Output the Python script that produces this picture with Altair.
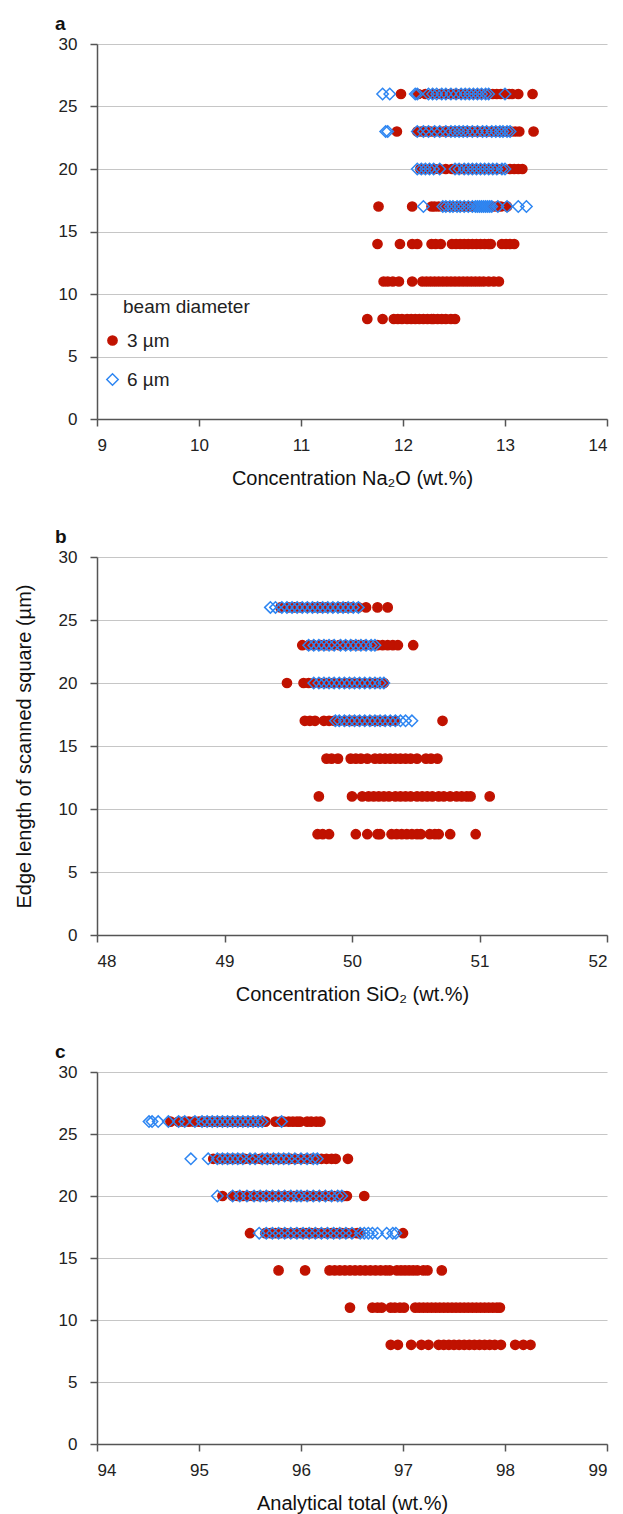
import altair as alt
import pandas as pd

FONT = "Liberation Sans"
RED = "#C01200"
BLUE = "#2E86F2"

BEAMS = ["3 µm", "6 µm"]
Y_TICKS = [0, 5, 10, 15, 20, 25, 30]
NA_TICKS = [9, 10, 11, 12, 13, 14]
SI_TICKS = [48, 49, 50, 51, 52]
TOT_TICKS = [94, 95, 96, 97, 98, 99]

# ---- panel a: Na2O concentration ----
NA_3UM = {
    26: [11.98, 12.15, 12.22, 12.30, 12.36, 12.42, 12.46, 12.50, 12.53, 12.57, 12.60, 12.63, 12.66, 12.69,
         12.72, 12.75, 12.78, 12.81, 12.84, 12.88, 12.92, 12.96, 13.00, 13.04, 13.07, 13.13, 13.27],
    23: [11.94, 12.14, 12.18, 12.22, 12.27, 12.31, 12.36, 12.40, 12.44, 12.49, 12.53, 12.57, 12.61, 12.65,
         12.70, 12.74, 12.78, 12.82, 12.86, 12.90, 12.94, 12.98, 13.02, 13.06, 13.10, 13.14, 13.28],
    20: [12.17, 12.20, 12.25, 12.31, 12.36, 12.42, 12.48, 12.53, 12.57, 12.61, 12.65, 12.69, 12.73, 12.77,
         12.81, 12.85, 12.89, 12.93, 12.97, 13.05, 13.09, 13.13, 13.17],
    17: [11.76, 12.09, 12.28, 12.31, 12.35, 12.40, 12.44, 12.48, 12.52, 12.56, 12.60, 12.64, 12.68, 12.72,
         12.76, 12.80, 12.84, 12.88, 12.92, 12.96, 13.02],
    14: [11.75, 11.97, 12.09, 12.14, 12.28, 12.32, 12.37, 12.48, 12.52, 12.56, 12.60, 12.64, 12.68, 12.72,
         12.76, 12.80, 12.84, 12.86, 12.97, 13.01, 13.05, 13.09],
    11: [11.81, 11.85, 11.90, 11.96, 12.09, 12.19, 12.23, 12.27, 12.31, 12.35, 12.39, 12.43, 12.47, 12.51,
         12.55, 12.59, 12.63, 12.67, 12.71, 12.75, 12.79, 12.84, 12.89, 12.94],
    8: [11.65, 11.80, 11.91, 11.95, 11.99, 12.04, 12.08, 12.12, 12.16, 12.20, 12.24, 12.28, 12.30, 12.34,
        12.38, 12.42, 12.47, 12.51],
}
NA_6UM = {
    26: [11.80, 11.87, 12.12, 12.14, 12.25, 12.29, 12.33, 12.38, 12.42, 12.47, 12.52, 12.57, 12.61, 12.65,
         12.69, 12.73, 12.77, 12.81, 12.84, 13.00],
    23: [11.83, 11.85, 12.14, 12.20, 12.25, 12.31, 12.36, 12.42, 12.47, 12.51, 12.55, 12.59, 12.63, 12.68,
         12.73, 12.78, 12.82, 12.87, 12.91, 12.95, 12.98, 13.02, 13.05],
    20: [12.14, 12.18, 12.22, 12.26, 12.30, 12.36, 12.51, 12.55, 12.60, 12.64, 12.68, 12.72, 12.76, 12.80,
         12.84, 12.88, 12.92, 12.97, 13.00],
    17: [12.20, 12.39, 12.42, 12.46, 12.49, 12.53, 12.56, 12.60, 12.64, 12.68, 12.71, 12.73, 12.75, 12.77,
         12.79, 12.81, 12.83, 12.85, 12.87, 12.93, 13.02, 13.13, 13.21],
}

# ---- panel b: SiO2 concentration ----
SI_3UM = {
    26: [49.44, 49.50, 49.55, 49.60, 49.65, 49.70, 49.75, 49.80, 49.85, 49.90, 49.95, 50.00, 50.05, 50.11,
         50.20, 50.28],
    23: [49.61, 49.66, 49.70, 49.75, 49.80, 49.85, 49.90, 49.95, 50.00, 50.05, 50.10, 50.15, 50.20, 50.24,
         50.28, 50.32, 50.36, 50.48],
    20: [49.49, 49.62, 49.66, 49.70, 49.75, 49.80, 49.85, 49.90, 49.95, 50.00, 50.05, 50.10, 50.15, 50.20,
         50.25],
    17: [49.63, 49.67, 49.71, 49.78, 49.82, 49.86, 49.90, 49.95, 50.00, 50.05, 50.10, 50.15, 50.20, 50.25,
         50.30, 50.34, 50.71],
    14: [49.80, 49.84, 49.89, 49.99, 50.03, 50.07, 50.12, 50.18, 50.22, 50.26, 50.30, 50.34, 50.38, 50.42,
         50.46, 50.51, 50.58, 50.62, 50.67],
    11: [49.74, 50.00, 50.08, 50.13, 50.17, 50.21, 50.25, 50.29, 50.34, 50.38, 50.42, 50.46, 50.51, 50.55,
         50.59, 50.63, 50.68, 50.72, 50.77, 50.82, 50.86, 50.90, 50.93, 51.08],
    8: [49.73, 49.77, 49.82, 50.03, 50.12, 50.20, 50.22, 50.31, 50.35, 50.39, 50.43, 50.47, 50.51, 50.54,
        50.61, 50.65, 50.68, 50.77, 50.97],
}
SI_6UM = {
    26: [49.36, 49.40, 49.45, 49.49, 49.53, 49.57, 49.61, 49.65, 49.69, 49.73, 49.77, 49.81, 49.85, 49.89,
         49.93, 49.97, 50.01, 50.05],
    23: [49.66, 49.70, 49.74, 49.78, 49.82, 49.86, 49.91, 49.95, 49.99, 50.03, 50.07, 50.11, 50.15, 50.18],
    20: [49.70, 49.74, 49.78, 49.82, 49.86, 49.90, 49.94, 49.98, 50.02, 50.06, 50.10, 50.14, 50.18, 50.22,
         50.25],
    17: [49.87, 49.90, 49.94, 49.98, 50.02, 50.06, 50.10, 50.14, 50.18, 50.22, 50.26, 50.30, 50.34, 50.38,
         50.42, 50.47],
}

# ---- panel c: analytical total ----
TOT_3UM = {
    26: [94.72, 94.80, 94.85, 94.90, 94.95, 95.00, 95.05, 95.10, 95.15, 95.20, 95.25, 95.30, 95.35, 95.40,
         95.45, 95.50, 95.55, 95.60, 95.65, 95.75, 95.80, 95.83, 95.88, 95.92, 95.96, 95.99, 96.06, 96.10,
         96.15, 96.19],
    23: [95.14, 95.20, 95.25, 95.30, 95.35, 95.40, 95.45, 95.50, 95.55, 95.60, 95.65, 95.70, 95.75, 95.80,
         95.85, 95.90, 95.95, 96.00, 96.05, 96.10, 96.15, 96.20, 96.25, 96.30, 96.34, 96.46],
    20: [95.23, 95.33, 95.38, 95.43, 95.48, 95.53, 95.58, 95.63, 95.68, 95.73, 95.78, 95.83, 95.88, 95.93,
         95.98, 96.03, 96.08, 96.13, 96.18, 96.23, 96.28, 96.33, 96.38, 96.42, 96.45, 96.62],
    17: [95.50, 95.65, 95.70, 95.75, 95.80, 95.85, 95.90, 95.95, 96.00, 96.05, 96.10, 96.15, 96.20, 96.25,
         96.30, 96.35, 96.40, 96.45, 96.50, 96.55, 96.58, 97.00],
    14: [95.78, 96.04, 96.28, 96.33, 96.38, 96.43, 96.48, 96.53, 96.58, 96.63, 96.68, 96.73, 96.78, 96.83,
         96.87, 96.94, 96.98, 97.02, 97.06, 97.10, 97.14, 97.20, 97.24, 97.38],
    11: [96.48, 96.70, 96.75, 96.79, 96.88, 96.92, 96.97, 97.01, 97.12, 97.16, 97.20, 97.24, 97.28, 97.32,
         97.36, 97.40, 97.44, 97.48, 97.52, 97.56, 97.60, 97.64, 97.68, 97.72, 97.76, 97.80, 97.84, 97.88,
         97.92, 97.95],
    8: [96.88, 96.95, 97.08, 97.18, 97.25, 97.35, 97.40, 97.45, 97.50, 97.55, 97.60, 97.65, 97.70, 97.75,
        97.80, 97.85, 97.90, 97.96, 98.10, 98.18, 98.25],
}
TOT_6UM = {
    26: [94.51, 94.54, 94.60, 94.70, 94.80, 94.86, 94.96, 95.03, 95.08, 95.13, 95.18, 95.23, 95.28, 95.33,
         95.38, 95.43, 95.48, 95.53, 95.58, 95.62, 95.81],
    23: [94.92, 95.09, 95.18, 95.23, 95.28, 95.33, 95.38, 95.43, 95.50, 95.55, 95.62, 95.67, 95.73, 95.78,
         95.83, 95.88, 95.94, 96.00, 96.06, 96.12, 96.16],
    20: [95.18, 95.33, 95.40, 95.47, 95.54, 95.60, 95.66, 95.72, 95.78, 95.84, 95.90, 95.96, 96.00, 96.06,
         96.12, 96.18, 96.24, 96.30, 96.36, 96.40],
    17: [95.59, 95.66, 95.72, 95.78, 95.84, 95.90, 95.96, 96.02, 96.08, 96.14, 96.20, 96.26, 96.32, 96.38,
         96.44, 96.50, 96.58, 96.62, 96.66, 96.70, 96.75, 96.84, 96.90, 96.93],
}

Y_TITLE = "Edge length of scanned square (µm)"


def frame(d3, d6):
    recs = []
    for beam, d in ((BEAMS[0], d3), (BEAMS[1], d6)):
        for row, vals in d.items():
            for v in vals:
                recs.append({"value": v, "edge": row, "beam": beam})
    return pd.DataFrame(recs)


def panel(df, letter, ticks, xtitle, height, show_ytitle, show_legend):
    if show_legend:
        leg = alt.Legend(
            title="beam diameter", orient="none", legendX=26, legendY=254,
            titleFont=FONT, titleFontSize=19, titleFontWeight="normal", titleColor="#222",
            labelFont=FONT, labelFontSize=19, labelColor="#222", titlePadding=14,
            rowPadding=19, labelOffset=5, padding=0, symbolStrokeWidth=1.5,
            symbolOffset=-20,
        )
    else:
        leg = None
    x = alt.X(
        "value:Q",
        scale=alt.Scale(domain=[ticks[0], ticks[-1]], nice=False, zero=False),
        axis=alt.Axis(values=ticks, title=xtitle, grid=False, format="d",
                      labelPadding=11, titlePadding=15),
    )
    y = alt.Y(
        "edge:Q",
        scale=alt.Scale(domain=[0, 30], nice=False, zero=True),
        axis=alt.Axis(values=Y_TICKS, title=Y_TITLE, titleOpacity=1 if show_ytitle else 0,
                      grid=True, labelPadding=13, titlePadding=24, format="d"),
    )
    return alt.Chart(df).mark_point(strokeWidth=1.5, opacity=1).encode(
        x=x,
        y=y,
        shape=alt.Shape("beam:N", scale=alt.Scale(domain=BEAMS, range=["circle", "diamond"]), legend=leg),
        fill=alt.Fill("beam:N", scale=alt.Scale(domain=BEAMS, range=[RED, "transparent"]), legend=leg),
        stroke=alt.Stroke("beam:N", scale=alt.Scale(domain=BEAMS, range=[RED, BLUE]), legend=leg),
        size=alt.Size("beam:N", scale=alt.Scale(domain=BEAMS, range=[85, 130]), legend=leg),
    ).properties(
        width=510,
        height=height,
        title=alt.TitleParams(letter, anchor="start", frame="group", dx=-42, offset=-14,
                              baseline="alphabetic", font=FONT, fontSize=19, fontWeight="bold",
                              color="#111"),
    )


pa = panel(frame(NA_3UM, NA_6UM), "a", NA_TICKS, "Concentration Na₂O (wt.%)", 375, False, True)
pb = panel(frame(SI_3UM, SI_6UM), "b", SI_TICKS, "Concentration SiO₂ (wt.%)", 378, True, False)
pc = panel(frame(TOT_3UM, TOT_6UM), "c", TOT_TICKS, "Analytical total (wt.%)", 372, False, False)

IND = dict(shape="independent", fill="independent", stroke="independent", size="independent")

top_pair = alt.vconcat(pa, pb, spacing=40).resolve_legend(**IND)

chart = alt.vconcat(top_pair, pc, spacing=39).resolve_legend(**IND).properties(
    padding={"left": 14, "top": 15, "right": 5, "bottom": 5}
).configure_view(stroke=None).configure_axis(
    labelFont=FONT, labelFontSize=17, labelColor="#222",
    titleFont=FONT, titleFontSize=20, titleFontWeight="normal", titleColor="#111",
    domainColor="#555", domainWidth=1.5, tickColor="#555", tickWidth=1.5, tickSize=7,
    gridColor="#c6c6c6", gridWidth=1.2,
)

chart.save("out.html", embed_options={"renderer": "svg", "actions": False})
